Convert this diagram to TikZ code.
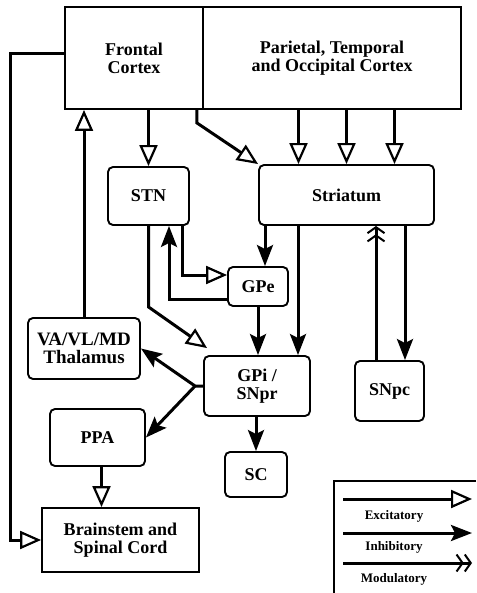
\documentclass[tikz,border=0pt]{standalone}
\usepackage{fontspec}
\setmainfont{Liberation Serif}
\usetikzlibrary{arrows.meta}

\begin{document}
\begin{tikzpicture}[x=1pt, y=-1pt,
    box/.style={draw, line width=1.9pt, rounded corners=5pt, align=center, inner sep=0pt, font=\fontsize{18}{18}\selectfont\bfseries},
    cortex/.style={box, sharp corners},
    exc/.style={-{Triangle[open, length=21pt, width=18pt, line width=2.2pt]}, line width=3pt},
    inh/.style={-{Stealth[length=21pt, width=16pt, inset=4pt]}, line width=3pt},
    mod/.style={-{Straight Barb[length=6pt, width=17pt, line width=2pt] Straight Barb[length=6pt, width=17pt, line width=2pt]}, line width=3pt},
    key/.style={font=\fontsize{13}{13}\selectfont\bfseries}
]
    \useasboundingbox (0,0) rectangle (476,593);

    % --- boxes ---
    \node[cortex, minimum width=138pt, minimum height=102pt] (frontal) at (134,58) {Frontal\\Cortex};
    \node[cortex, minimum width=258pt, minimum height=102pt] (parietal) at (332,58) {Parietal, Temporal\\and Occipital Cortex};
    \node[box, minimum width=81pt, minimum height=58pt] (stn) at (148.5,196) {STN};
    \node[box, minimum width=175pt, minimum height=60pt] (striatum) at (346.5,195) {Striatum};
    \node[box, minimum width=60pt, minimum height=39pt] (gpe) at (258,286.5) {GPe};
    \node[box, minimum width=106pt, minimum height=60pt] (gpi) at (257,386) {GPi /\\SNpr};
    \node[box, minimum width=112pt, minimum height=61pt, font=\fontsize{19}{18}\selectfont\bfseries] (thal) at (84,348.5) {VA/VL/MD\\Thalamus};
    \node[box, minimum width=95pt, minimum height=57pt] (ppa) at (97.5,437.5) {PPA};
    \node[box, minimum width=62pt, minimum height=45pt] (sc) at (256,474.5) {SC};
    \node[box, minimum width=69pt, minimum height=60pt] (snpc) at (389.5,391) {SNpc};
    \node[cortex, minimum width=157pt, minimum height=64pt] (brain) at (120.5,540) {Brainstem and\\Spinal Cord};

    % --- cortical input ---
    \draw[exc] (stn.north |- frontal.south) -- (stn.north);
    \draw[exc] ([xshift=-7pt]frontal.south east) -- ++(0,13) -- (striatum.north west);
    \foreach \dx in {-48,0,48}
        \draw[exc] ([xshift=\dx pt]striatum.north |- parietal.south) -- ([xshift=\dx pt]striatum.north);

    % --- STN / GPe loop ---
    \draw[exc] ([xshift=33.5pt]stn.south) |- ([yshift=11.5pt]gpe.west);
    \draw[inh] ([yshift=-12.5pt]gpe.west) -| ([xshift=20.5pt]stn.south);
    \draw[exc] (stn.south) -- ++(0,81) -- ([shift={(4pt,7pt)}]gpi.north west);

    % --- striatal output ---
    \draw[inh] ([xshift=7pt]gpe.north |- striatum.south) -- ([xshift=7pt]gpe.north);
    \draw[inh] ([xshift=41pt]gpi.north |- striatum.south) -- ([xshift=41pt]gpi.north);
    \draw[inh] (gpe.south) -- (gpe.south |- gpi.north);
    \draw[inh] ([xshift=15.5pt]snpc.north |- striatum.south) -- ([xshift=15.5pt]snpc.north);
    \draw[mod] ([xshift=-13.5pt]snpc.north) -- ([xshift=-13.5pt]snpc.north |- striatum.south);

    % --- GPi / SNpr output ---
    \draw[inh] (gpi.west) -- ++(-8,0) coordinate (fork) -- (thal.east);
    \draw[inh] (fork) -- (ppa.east);
    \draw[inh] (sc.north |- gpi.south) -- (sc.north);

    % --- thalamus, brainstem ---
    \draw[exc] (thal.north) -- (thal.north |- frontal.south);
    \draw[exc] ([xshift=4pt]ppa.south) -- ([xshift=4pt]ppa.south |- brain.north);
    \coordinate (rim) at (10,0);
    \draw[exc] ([yshift=4pt]frontal.west) -| (rim |- brain.west) -- (brain.west);

    % --- legend ---
    \draw[line width=1.5pt] (476,481) -| (334,593);
    \coordinate (e1) at (343,499); \coordinate (e2) at (472,499);
    \coordinate (i1) at (343,533); \coordinate (i2) at (472,533);
    \coordinate (m1) at (343,563); \coordinate (m2) at (472,563);
    \draw[exc] (e1) -- (e2);
    \draw[inh] (i1) -- (i2);
    \draw[mod] (m1) -- (m2);
    \node[key] (lexc) at (394,516) {Excitatory};
    \node[key] (linh) at (394,547) {Inhibitory};
    \node[key] (lmod) at (394,579) {Modulatory};
\end{tikzpicture}
\end{document}
